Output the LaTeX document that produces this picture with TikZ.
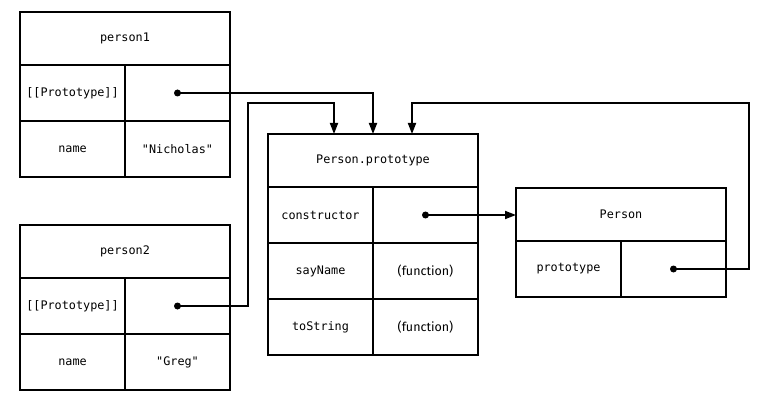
\documentclass[tikz,border=0pt]{standalone}
\usepackage{fontspec}
\newfontfamily\monofont{DejaVu Sans Mono}
\newfontfamily\labelfont{Fira Sans}
\usepackage{tikz}
\usetikzlibrary{arrows.meta,positioning}

\begin{document}
\begin{tikzpicture}[x=1pt,y=-1pt,
        cell/.style={draw,line width=1.8pt,inner sep=0pt,outer sep=0pt,minimum width=105pt,
          minimum height=56pt,font=\monofont\fontsize{11.8}{13}\selectfont},
        head/.style={cell,minimum width=210pt,minimum height=53pt,anchor=north west},
        fn/.style={cell,font=\labelfont\fontsize{12.5}{14}\selectfont},
        dot/.style={circle,fill,inner sep=0pt,minimum size=7pt},
        link/.style={line width=1.8pt,-{Triangle[length=11pt,width=8pt]}}]

  \useasboundingbox (0,0) rectangle (784,406);

  % person1
  \node[head] (p1) at (20,12) {person1};
  \node[cell,anchor=north west] (p1key) at (p1.south west) {[[Prototype]]};
  \node[cell,anchor=north west] (p1ptr) at (p1.south) {};
  \node[cell,anchor=north west] (p1name) at (p1key.south west) {name};
  \node[cell,anchor=north west] (p1val) at (p1ptr.south west) {"Nicholas"};

  % person2
  \node[head] (p2) at (20,225) {person2};
  \node[cell,anchor=north west] (p2key) at (p2.south west) {[[Prototype]]};
  \node[cell,anchor=north west] (p2ptr) at (p2.south) {};
  \node[cell,anchor=north west] (p2name) at (p2key.south west) {name};
  \node[cell,anchor=north west] (p2val) at (p2ptr.south west) {"Greg"};

  % Person.prototype
  \node[head] (pp) at (268,134) {Person.prototype};
  \node[cell,anchor=north west] (ppcons) at (pp.south west) {constructor};
  \node[cell,anchor=north west] (ppptr) at (pp.south) {};
  \node[cell,anchor=north west] (ppsay) at (ppcons.south west) {sayName};
  \node[fn,anchor=north west] (ppsayfn) at (ppptr.south west) {(function)};
  \node[cell,anchor=north west] (ppstr) at (ppsay.south west) {toString};
  \node[fn,anchor=north west] (ppstrfn) at (ppsayfn.south west) {(function)};

  % Person
  \node[head] (pn) at (516,188) {Person};
  \node[cell,anchor=north west] (pnkey) at (pn.south west) {prototype};
  \node[cell,anchor=north west] (pnptr) at (pn.south) {};

  % pointers
  \node[dot] (d1) at (p1ptr) {};
  \node[dot] (d2) at (p2ptr) {};
  \node[dot] (d3) at (ppptr) {};
  \node[dot] (d4) at (pnptr) {};

  \coordinate (bend2) at (248,103);
  \coordinate (bend4) at (749,103);

  \draw[link] (d1.center) -| (pp.north);
  \draw[link] (d2.center) -| (bend2) -| ([xshift=-39pt]pp.north);
  \draw[link] (d3.center) -- (pn.west |- d3);
  \draw[link] (d4.center) -| (bend4) -| ([xshift=39pt]pp.north);

\end{tikzpicture}
\end{document}
